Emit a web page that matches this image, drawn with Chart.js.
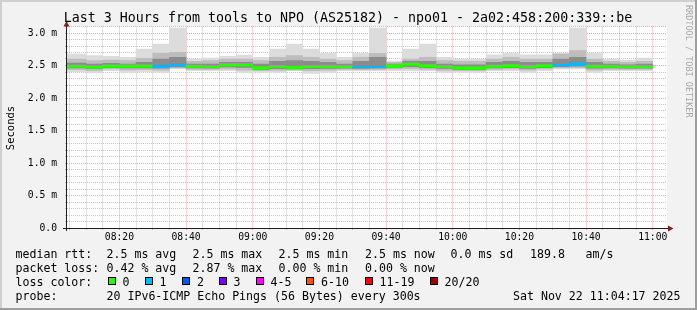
<!DOCTYPE html>
<html><head><meta charset="utf-8">
<script src="https://cdn.jsdelivr.net/npm/chart.js@4/dist/chart.umd.min.js"></script>
<style>html,body{margin:0;padding:0;background:#f2f2f2;}canvas{display:block;}</style>
</head><body>
<canvas id="c" width="697" height="310"></canvas>
<script>
// ---------- data ----------
const intervalEnd = ["08:05","08:10","08:15","08:20","08:25","08:30","08:35","08:40","08:45","08:50","08:55","09:00",
  "09:05","09:10","09:15","09:20","09:25","09:30","09:35","09:40","09:45","09:50","09:55","10:00",
  "10:05","10:10","10:15","10:20","10:25","10:30","10:35","10:40","10:45","10:50","10:55","11:00"];
const maxRtt = [2.677,2.677,2.651,2.642,2.626,2.754,2.831,3.077,2.600,2.615,2.642,2.662,
  2.626,2.754,2.831,2.754,2.688,2.626,2.688,3.077,2.569,2.754,2.831,2.626,
  2.600,2.600,2.666,2.688,2.666,2.666,2.692,3.077,2.692,2.600,2.585,2.615];
const p90Rtt = [2.600,2.600,2.574,2.585,2.574,2.611,2.692,2.703,2.565,2.574,2.600,2.600,
  2.574,2.626,2.651,2.626,2.600,2.574,2.626,2.688,2.549,2.600,2.626,2.574,
  2.565,2.565,2.600,2.626,2.600,2.600,2.677,2.728,2.600,2.565,2.549,2.565];
const p75Rtt = [2.538,2.538,2.523,2.534,2.523,2.549,2.600,2.626,2.523,2.523,2.549,2.549,
  2.523,2.565,2.574,2.565,2.549,2.523,2.565,2.626,2.523,2.565,2.565,2.523,
  2.512,2.512,2.549,2.565,2.549,2.549,2.600,2.626,2.549,2.523,2.512,2.523];
const medianRtt = [2.488,2.488,2.477,2.492,2.492,2.492,2.492,2.512,2.488,2.482,2.512,2.512,
  2.466,2.482,2.472,2.482,2.482,2.482,2.482,2.482,2.497,2.523,2.497,2.482,
  2.466,2.466,2.488,2.497,2.482,2.497,2.512,2.528,2.488,2.488,2.482,2.482];
const p25Rtt = [2.462,2.462,2.450,2.466,2.462,2.462,2.458,2.477,2.462,2.458,2.477,2.472,
  2.440,2.450,2.446,2.450,2.454,2.458,2.454,2.458,2.472,2.482,2.466,2.454,
  2.440,2.440,2.462,2.466,2.454,2.466,2.482,2.488,2.458,2.462,2.458,2.458];
const p10Rtt = [2.436,2.436,2.420,2.446,2.430,2.436,2.430,2.462,2.441,2.441,2.446,2.430,
  2.420,2.425,2.430,2.420,2.430,2.441,2.436,2.441,2.446,2.451,2.441,2.425,
  2.420,2.420,2.441,2.446,2.430,2.446,2.462,2.466,2.430,2.441,2.441,2.441];
const minRtt = [2.405,2.405,2.385,2.420,2.395,2.405,2.395,2.446,2.420,2.420,2.420,2.395,
  2.395,2.395,2.420,2.380,2.395,2.420,2.420,2.420,2.420,2.420,2.420,2.395,
  2.395,2.395,2.420,2.420,2.395,2.420,2.446,2.446,2.395,2.420,2.420,2.420];
const lostPings = [0,0,0,0,0,0,1,1,0,0,0,0,0,0,0,0,0,0,1,1,0,0,0,0,0,0,0,0,0,0,1,1,0,0,0,0];

const lossLabels = ["0","1","2","3","4-5","6-10","11-19","20/20"];
const lossColors = ["#26ff00","#00b8ff","#0059ff","#7e00ff","#ff00ff","#ff5500","#ff0000","#a10000"];

const xTickLabels = ["08:20","08:40","09:00","09:20","09:40","10:00","10:20","10:40","11:00"];
const yTickValues = [0,0.5,1.0,1.5,2.0,2.5,3.0];
const yTickLabels = ["0.0","0.5 m","1.0 m","1.5 m","2.0 m","2.5 m","3.0 m"];

const titleText = "Last 3 Hours from tools to NPO (AS25182) - npo01 - 2a02:458:200:339::be";
const yTitle = "Seconds";
const watermark = "RRDTOOL / TOBI OETIKER";
const legendRow1 = ["median rtt:","2.5 ms avg","2.5 ms max","2.5 ms min","2.5 ms now","0.0 ms sd","189.8","am/s"];
const legendRow2 = ["packet loss:","0.42 % avg","2.87 % max","0.00 % min","0.00 % now"];
const legendRow3Head = "loss color:";
const legendRow4 = ["probe:","20 IPv6-ICMP Echo Pings (56 Bytes) every 300s"];
const dateText = "Sat Nov 22 11:04:17 2025";

// ---------- helpers ----------
const toMin = s => { const [h,m] = s.split(':').map(Number); return h*60+m; };
const STEP = 5;
const END = toMin("11:04") + 17/60;
const START = END - 180;
const xs = intervalEnd.map(s => toMin(s) - STEP/2);
const band = (lo, hi) => xs.map((x,i) => ({x, y:[lo[i], hi[i]]}));
const lossIndex = n => n<=3 ? n : n<=5 ? 4 : n<=10 ? 5 : n<=19 ? 6 : 7;
const MED_HALF = 0.017;
const xGridValues = [];
for (let t = toMin("08:05"); t <= toMin("11:00"); t += STEP) xGridValues.push(t);
const yGridValues = [];
for (let i = 0; i <= 31; i++) yGridValues.push(i/10);

const MONO = "'DejaVu Sans Mono', monospace";
const MINOR = 'rgba(150,150,150,0.55)';
const MAJOR = 'rgba(225,90,90,0.55)';
const isMajX = v => Math.round(v) % 20 === 0;
const isMajY = v => Math.round(v*10) % 5 === 0;

const W = 697, H = 310;

const decor = {
  id: 'decor',
  beforeDraw(chart) {
    const {ctx, chartArea: a} = chart;
    ctx.save();
    ctx.fillStyle = '#f2f2f2'; ctx.fillRect(0,0,W,H);
    ctx.fillStyle = '#cfcfcf'; ctx.fillRect(0,0,W,2); ctx.fillRect(0,0,2,H);
    ctx.fillStyle = '#9e9e9e'; ctx.fillRect(0,H-2,W,2); ctx.fillRect(W-2,0,2,H);
    ctx.fillStyle = '#ffffff'; ctx.fillRect(a.left, a.top, a.right-a.left, a.bottom-a.top);
    ctx.restore();
  },
  afterDraw(chart) {
    const {ctx, chartArea: a} = chart;
    ctx.save();
    // axes
    ctx.strokeStyle = '#1f1f1f'; ctx.lineWidth = 1;
    ctx.beginPath();
    ctx.moveTo(a.left - 0.5, a.bottom + 3); ctx.lineTo(a.left - 0.5, a.top - 1);
    ctx.moveTo(a.left - 4, a.bottom + 0.5); ctx.lineTo(a.right + 2, a.bottom + 0.5);
    ctx.stroke();
    ctx.fillStyle = '#801f1f';
    ctx.beginPath();
    ctx.moveTo(a.left - 0.5, a.top - 5.5); ctx.lineTo(a.left - 3.5, a.top); ctx.lineTo(a.left + 2.5, a.top); ctx.closePath(); ctx.fill();
    ctx.beginPath();
    ctx.moveTo(a.right + 6.5, a.bottom + 0.5); ctx.lineTo(a.right + 1, a.bottom - 2.5); ctx.lineTo(a.right + 1, a.bottom + 3.5); ctx.closePath(); ctx.fill();

    // title
    ctx.fillStyle = '#000';
    ctx.font = `13.3px ${MONO}`;
    ctx.textAlign = 'center'; ctx.textBaseline = 'middle';
    ctx.fillText(titleText, 348, 19);

    // y title
    ctx.save();
    ctx.font = `10.5px ${MONO}`;
    ctx.translate(11, 128); ctx.rotate(-Math.PI/2);
    ctx.fillText(yTitle, 0, 0);
    ctx.restore();

    // watermark
    ctx.save();
    ctx.fillStyle = '#a8a8a8';
    ctx.font = `8.5px ${MONO}`;
    ctx.translate(688, 5); ctx.rotate(Math.PI/2);
    ctx.textAlign = 'left';
    ctx.fillText(watermark, 0, 0);
    ctx.restore();

    // legend
    ctx.font = `11.6px ${MONO}`;
    ctx.textAlign = 'left'; ctx.textBaseline = 'middle';
    ctx.fillStyle = '#000';
    const r1x = [15.5,106.5,192.5,278.5,365,450.5,530,585.5];
    legendRow1.forEach((t,i) => ctx.fillText(t, r1x[i], 254.5));
    const r2x = [15.5,106.5,192.5,278.5,365];
    legendRow2.forEach((t,i) => ctx.fillText(t, r2x[i], 268.5));
    ctx.fillText(legendRow3Head, 15.5, 282.5);
    const boxX = [108.5,145.5,182.5,219.5,256.5,306.5,365.5,430.5];
    const labX = [122.5,159.5,197,233.5,270.5,321,379.5,444.5];
    lossLabels.forEach((t,i) => {
      ctx.fillStyle = lossColors[i];
      ctx.fillRect(boxX[i], 277.5, 7, 7);
      ctx.strokeStyle = '#000'; ctx.lineWidth = 1;
      ctx.strokeRect(boxX[i], 277.5, 7, 7);
      ctx.fillStyle = '#000';
      ctx.fillText(t, labX[i], 282.5);
    });
    ctx.fillText(legendRow4[0], 15.5, 296.5);
    ctx.fillText(legendRow4[1], 106.5, 296.5);
    ctx.textAlign = 'right';
    ctx.fillText(dateText, 680.5, 296.5);
    ctx.restore();
  }
};

new Chart(document.getElementById('c'), {
  type: 'bar',
  data: {
    datasets: [
      { label: 'median', order: 0,
        data: xs.map((x,i) => ({x, y:[medianRtt[i]-MED_HALF, medianRtt[i]+MED_HALF]})),
        backgroundColor: lostPings.map(n => lossColors[lossIndex(n)]) },
      { label: 'p25-p75', order: 1, data: band(p25Rtt, p75Rtt), backgroundColor: '#8c8c8c' },
      { label: 'p10-p90', order: 2, data: band(p10Rtt, p90Rtt), backgroundColor: '#bdbdbd' },
      { label: 'min-max', order: 3, data: band(minRtt, maxRtt), backgroundColor: '#dcdcdc' }
    ]
  },
  options: {
    responsive: false, animation: false, devicePixelRatio: 1,
    layout: { padding: { top: 26.5, right: 30, left: 0, bottom: 0 } },
    datasets: { bar: { grouped: false, barPercentage: 1, categoryPercentage: 1, borderWidth: 0 } },
    plugins: { legend: { display: false }, tooltip: { enabled: false }, title: { display: false } },
    scales: {
      x: {
        type: 'linear', min: START, max: END, offset: false, z: 1,
        afterBuildTicks: s => { s.ticks = xGridValues.map(v => ({value: v})); },
        afterFit: s => { s.height = H - 228; },
        grid: { offset: false, lineWidth: 1, tickLength: 2,
          color: c => (c.tick && isMajX(c.tick.value)) ? MAJOR : MINOR,
          tickColor: c => (c.tick && isMajX(c.tick.value)) ? MAJOR : MINOR },
        border: { display: false, dash: [1,1] },
        ticks: { autoSkip: false, maxRotation: 0, minRotation: 0, padding: 2, color: '#000',
          font: { family: MONO, size: 9.7 },
          callback: v => { const k = xTickLabels.findIndex(s => toMin(s) === Math.round(v)); return k >= 0 ? xTickLabels[k] : ''; } }
      },
      y: {
        type: 'linear', min: 0, max: 3.1, z: 1,
        afterBuildTicks: s => { s.ticks = yGridValues.map(v => ({value: v})); },
        afterFit: s => { s.width = 67; },
        grid: { lineWidth: 1, tickLength: 2,
          color: c => (c.tick && isMajY(c.tick.value)) ? MAJOR : MINOR,
          tickColor: c => (c.tick && isMajY(c.tick.value)) ? MAJOR : MINOR },
        border: { display: false, dash: [1,1] },
        ticks: { autoSkip: false, padding: 8, color: '#000',
          font: { family: MONO, size: 9.7 },
          callback: v => { const k = yTickValues.findIndex(t => Math.abs(t - v) < 1e-6); return k >= 0 ? yTickLabels[k] : ''; } }
      }
    }
  },
  plugins: [decor]
});
</script>
</body></html>
